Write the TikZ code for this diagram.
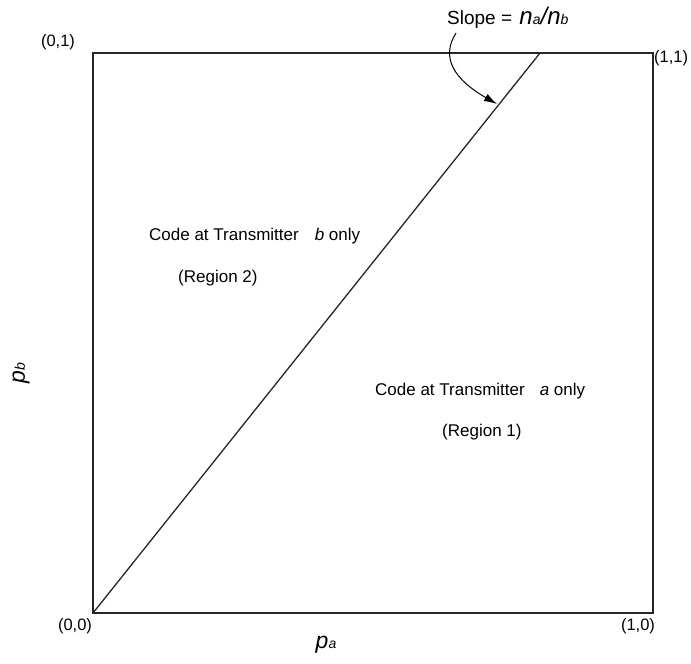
\documentclass[tikz,border=0pt]{standalone}
\usepackage{fontspec}
\setmainfont{Liberation Sans}
\usetikzlibrary{arrows.meta}
\tikzset{
  frame/.style={draw=black!85, line width=1.3pt},
  corner/.style={inner sep=0pt, font=\fontsize{16.5}{16.5}\selectfont},
  regiontext/.style={inner sep=0pt, anchor=base west, font=\fontsize{17}{17}\selectfont},
  axislabel/.style={inner sep=0pt, font=\fontsize{23}{23}\selectfont\itshape},
  pointer/.style={draw=black, line width=1pt, -{Latex[length=13pt,width=8pt]}}
}
\newcommand{\subsz}[1]{{\fontsize{14}{14}\selectfont #1}}
\begin{document}
\begin{tikzpicture}[x=1pt,y=-1pt]
\useasboundingbox (0,0) rectangle (691,664);
% square corners
\coordinate (O) at (93,613);
\coordinate (A) at (653,613);
\coordinate (C) at (653,53);
\coordinate (B) at (93,53);
\coordinate (T) at (540,53);
\draw[frame] (O) -- (A) -- (C) -- (B) -- cycle;
\draw[frame] (O) -- (T);
% corner labels
\node[corner] (l00) at (75,626) {(0,0)};
\node[corner] (l10) at (638,626) {(1,0)};
\node[corner] (l01) at (58,42) {(0,1)};
\node[corner, anchor=west] (l11) at (654,58) {(1,1)};
% axis labels
\node[axislabel] (pa) at (326,645) {p\subsz{a}};
\node[axislabel, rotate=90] (pb) at (21,373) {p\subsz{b}};
% region texts
\node[regiontext] (r2a) at (149,240) {Code at Transmitter\hspace{16pt}\textit{b} only};
\node[regiontext] (r2b) at (178,282) {(Region 2)};
\node[regiontext] (r1a) at (375,395) {Code at Transmitter\hspace{15pt}\textit{a} only};
\node[regiontext] (r1b) at (442,436) {(Region 1)};
% slope label
\node[inner sep=0pt, anchor=base west, font=\fontsize{19}{19}\selectfont] (slope) at (447,24)
  {Slope = \hspace{2pt}{\fontsize{24}{24}\selectfont\itshape n}{\fontsize{14}{14}\selectfont\itshape a}{\fontsize{24}{24}\selectfont\itshape /n}{\fontsize{14}{14}\selectfont\itshape b}};
\coordinate (arrS) at (456,33);
\coordinate (arrE) at (497,104);
\draw[pointer] (arrS) .. controls (440,58) and (455,80) .. (arrE);
\end{tikzpicture}
\end{document}
